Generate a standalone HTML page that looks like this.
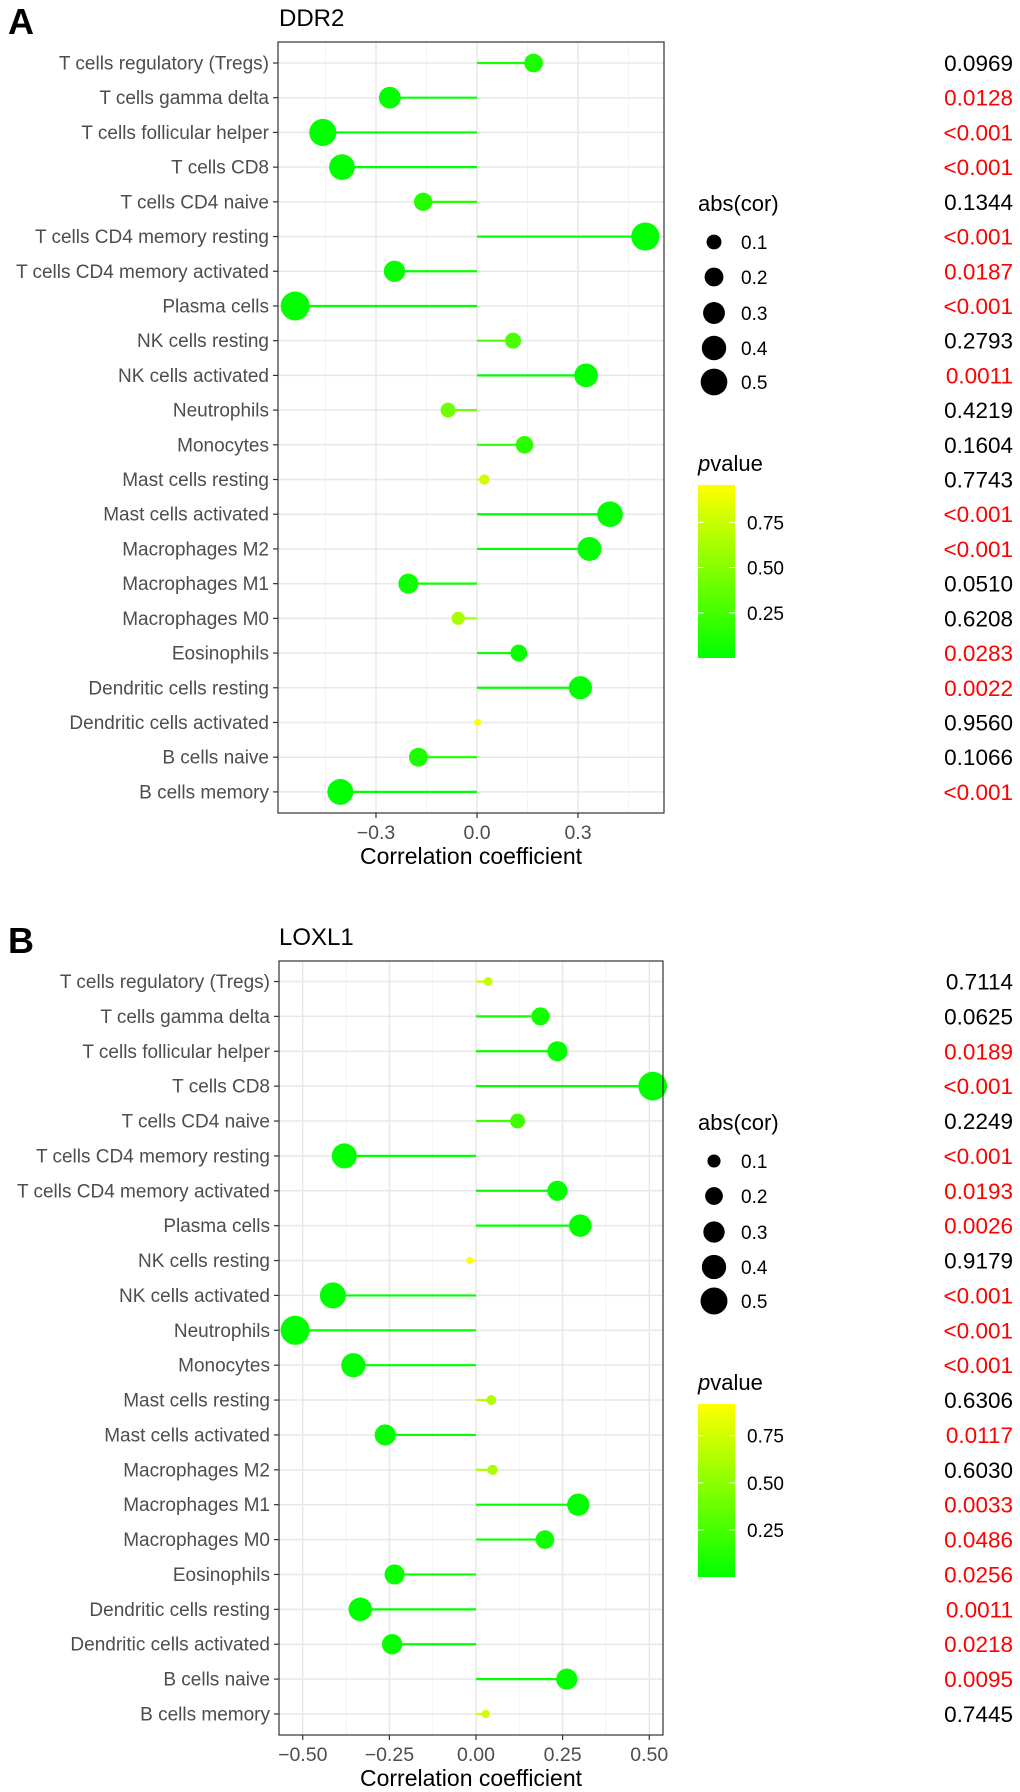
<!DOCTYPE html>
<html><head><meta charset="utf-8"><style>
html,body{margin:0;padding:0;background:#fff;}
svg{display:block;font-family:"Liberation Sans",Arial,sans-serif;}
</style></head><body>
<svg id="fig" width="1020" height="1792" viewBox="0 0 1020 1792">
<defs>
<linearGradient id="pgradA" x1="0" y1="1" x2="0" y2="0"><stop offset="0" stop-color="#00ff00"/><stop offset="1" stop-color="#ffff00"/></linearGradient>
</defs>
</svg>
<script>
const categories = ["T cells regulatory (Tregs)","T cells gamma delta","T cells follicular helper","T cells CD8","T cells CD4 naive","T cells CD4 memory resting","T cells CD4 memory activated","Plasma cells","NK cells resting","NK cells activated","Neutrophils","Monocytes","Mast cells resting","Mast cells activated","Macrophages M2","Macrophages M1","Macrophages M0","Eosinophils","Dendritic cells resting","Dendritic cells activated","B cells naive","B cells memory"];
const corA = [0.168,-0.259,-0.458,-0.401,-0.160,0.500,-0.245,-0.540,0.107,0.324,-0.086,0.141,0.022,0.395,0.334,-0.204,-0.056,0.124,0.307,0.002,-0.174,-0.406];
const pA = ["0.0969","0.0128","<0.001","<0.001","0.1344","<0.001","0.0187","<0.001","0.2793","0.0011","0.4219","0.1604","0.7743","<0.001","<0.001","0.0510","0.6208","0.0283","0.0022","0.9560","0.1066","<0.001"];
const corB = [0.035,0.186,0.235,0.510,0.120,-0.380,0.235,0.301,-0.018,-0.413,-0.522,-0.354,0.044,-0.262,0.048,0.295,0.199,-0.235,-0.334,-0.242,0.262,0.028];
const pB = ["0.7114","0.0625","0.0189","<0.001","0.2249","<0.001","0.0193","0.0026","0.9179","<0.001","<0.001","<0.001","0.6306","0.0117","0.6030","0.0033","0.0486","0.0256","0.0011","0.0218","0.0095","0.7445"];
const ticksA = [-0.3,0,0.3];
const tickLabelsA = ["\u22120.3","0.0","0.3"];
const minorA = [-0.45,-0.15,0.15,0.45];
const ticksB = [-0.5,-0.25,0,0.25,0.5];
const tickLabelsB = ["\u22120.50","\u22120.25","0.00","0.25","0.50"];
const minorB = [-0.375,-0.125,0.125,0.375];
const sizeBreaks = [0.1,0.2,0.3,0.4,0.5];
const pBreaks = [0.25,0.5,0.75];
const pBreakLabels = ["0.25","0.50","0.75"];

const NS="http://www.w3.org/2000/svg";
const svg=document.getElementById('fig');
function mk(tag,attrs,parent,text){const e=document.createElementNS(NS,tag);for(const k in attrs)e.setAttribute(k,attrs[k]);if(text!==undefined)e.textContent=text;(parent||svg).appendChild(e);return e;}
function pnum(s){return s.startsWith('<')?0.0005:parseFloat(s);}

function panel(cfg){
  const g=mk('g',{});
  
  
  const {L,R,T,B,x0,ppu,y0,dy,cor,pv,ticks,tickLabels,minor,off}=cfg;
  const xs=v=>x0+v*ppu;
  const ys=i=>y0+i*dy;
  const lt=mk('text',{x:8,y:cfg.letterY,'font-size':36,'font-weight':'bold',fill:'#000'},g,cfg.letter);
  
  
  const tt=mk('text',{x:279,y:cfg.titleY,'font-size':24,fill:'#000'},g,cfg.title);
  
  
  minor.forEach(v=>{const l=mk('line',{x1:xs(v),x2:xs(v),y1:T,y2:B,stroke:'#f2f2f2','stroke-width':0.8},g);});
  ticks.forEach(v=>{const l=mk('line',{x1:xs(v),x2:xs(v),y1:T,y2:B,stroke:'#e8e8e8','stroke-width':1.5},g);});
  categories.forEach((c,i)=>{const l=mk('line',{x1:L,x2:R,y1:ys(i),y2:ys(i),stroke:'#e8e8e8','stroke-width':1.5},g);});
  const sq=cor.map(v=>Math.sqrt(Math.abs(v)));
  const smin=Math.min(...sq),smax=Math.max(...sq);
  const rad=v=>{const f=(Math.sqrt(Math.abs(v))-smin)/(smax-smin);return 1.3+2.2*(1+5*f);};
  const pn=pv.map(pnum);
  const pmin=Math.min(...pn),pmax=Math.max(...pn);
  const col=p=>{const f=Math.max(0,Math.min(1,(p-pmin)/(pmax-pmin)));return 'rgb('+Math.round(255*f)+',255,0)';};
  cor.forEach((v,i)=>{
    const c=col(pn[i]);
    const s=mk('line',{x1:xs(0),x2:xs(v),y1:ys(i),y2:ys(i),stroke:c,'stroke-width':2.2},g);
    
    
    const p=mk('circle',{cx:xs(v),cy:ys(i),r:rad(v),fill:c},g);
    
    
  });
  const fr=mk('rect',{x:L,y:T,width:R-L,height:B-T,fill:'none',stroke:'#333','stroke-width':1.2},g);
  
  
  categories.forEach((c,i)=>{
    mk('line',{x1:L-5,x2:L,y1:ys(i),y2:ys(i),stroke:'#333','stroke-width':1.2},g);
    const t=mk('text',{x:L-9,y:ys(i)+6.5,'font-size':19,fill:'#4d4d4d','text-anchor':'end'},g,c);
    
    
  });
  ticks.forEach((v,i)=>{
    mk('line',{x1:xs(v),x2:xs(v),y1:B,y2:B+5,stroke:'#333','stroke-width':1.2},g);
    const t=mk('text',{x:xs(v),y:B+26,'font-size':19.5,fill:'#4d4d4d','text-anchor':'middle'},g,tickLabels[i]);
    
    
  });
  const xt=mk('text',{x:(L+R)/2,y:B+51,'font-size':23,fill:'#000','text-anchor':'middle'},g,'Correlation coefficient');
  
  
  pv.forEach((s,i)=>{
    const t=mk('text',{x:1013,y:ys(i)+8,'font-size':22.5,fill:pn[i]<0.05?'#ff0000':'#000','text-anchor':'end'},g,s);
    
    
  });
  const lg=mk('g',{},g);
  
  
  mk('text',{x:698,y:211+off,'font-size':22,fill:'#000'},lg,'abs(cor)');
  const ly=[242,277,313,348,382];
  sizeBreaks.forEach((b,i)=>{
    const c=mk('circle',{cx:714,cy:ly[i]+off,r:Math.max(3,rad(b)*0.95),fill:'#000'},lg);
    
    
    mk('text',{x:741,y:ly[i]+off+7,'font-size':19,fill:'#000'},lg,String(b));
  });
  const cg=mk('g',{},g);
  
  
  const pt=mk('text',{x:698,y:471+off,'font-size':22,fill:'#000'},cg);
  mk('tspan',{'font-style':'italic'},pt,'p');
  mk('tspan',{},pt,'value');
  const gT=485+off,gB=658+off;
  mk('rect',{x:698,y:gT,width:37,height:gB-gT,fill:'url(#pgradA)'},cg);
  const cy=p=>gT+(pmax-p)/(pmax-pmin)*(gB-gT);
  pBreaks.forEach((b,i)=>{
    const y=cy(b);
    mk('line',{x1:698,x2:704,y1:y,y2:y,stroke:'#fff','stroke-width':1},cg);
    mk('line',{x1:729,x2:735,y1:y,y2:y,stroke:'#fff','stroke-width':1},cg);
    mk('text',{x:747,y:y+7,'font-size':19,fill:'#000'},cg,pBreakLabels[i]);
  });
}
panel({name:'panel-a-ddr2',letter:'A',title:'DDR2',letterY:34,titleY:26,L:278,R:664,T:42,B:813,x0:477,ppu:336.7,y0:63,dy:34.71,cor:corA,pv:pA,ticks:ticksA,tickLabels:tickLabelsA,minor:minorA,off:0});
panel({name:'panel-b-loxl1',letter:'B',title:'LOXL1',letterY:953,titleY:945,L:279,R:663,T:961,B:1735,x0:476,ppu:346.5,y0:981.5,dy:34.88,cor:corB,pv:pB,ticks:ticksB,tickLabels:tickLabelsB,minor:minorB,off:919});
</script>
</body></html>
